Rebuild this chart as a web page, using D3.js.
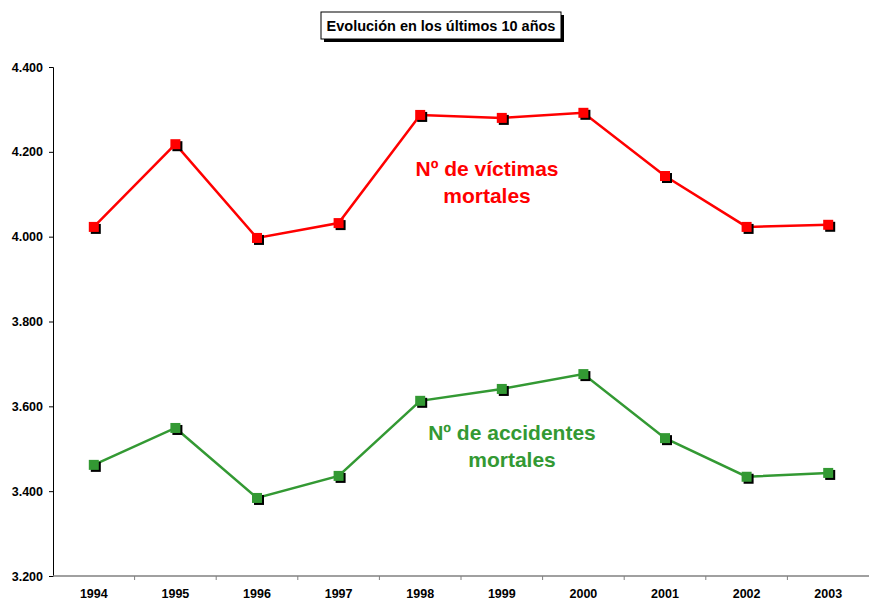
<!DOCTYPE html>
<html>
<head>
<meta charset="utf-8">
<script src="https://cdn.jsdelivr.net/npm/d3@7"></script>
<style>
  body { margin: 0; background: #fff; }
  text { font-family: "Liberation Sans", Arial, sans-serif; }
</style>
</head>
<body>
<script>
// Datos
const years = ["1994", "1995", "1996", "1997", "1998", "1999", "2000", "2001", "2002", "2003"];
const victimas = [4023, 4218, 3997, 4032, 4287, 4280, 4292, 4143, 4023, 4028];
const accidentes = [3462, 3549, 3384, 3436, 3613, 3641, 3676, 3525, 3434, 3443];
const yTicks = [3200, 3400, 3600, 3800, 4000, 4200, 4400];

const width = 869, height = 601;
const margin = { top: 67, right: 0, bottom: 25, left: 53 };

const svg = d3.select("body").append("svg")
  .attr("width", width)
  .attr("height", height);

const x = d3.scaleBand()
  .domain(years)
  .range([margin.left, width - margin.right]);

const y = d3.scaleLinear()
  .domain([3200, 4400])
  .range([height - margin.bottom, margin.top]);

const fmt = v => d3.format(",")(v).replace(",", ".");

// Eje Y
const yAxis = svg.append("g")
  .attr("transform", `translate(${margin.left},0)`)
  .call(d3.axisLeft(y).tickValues(yTicks).tickFormat(fmt).tickSize(4).tickPadding(6));
yAxis.select(".domain").attr("stroke", "#000");
yAxis.selectAll("text").style("font-size", "12.5px").style("font-weight", "bold").attr("fill", "#000");

// Eje X (marcas en los límites de cada categoría)
const xAxis = svg.append("g")
  .attr("transform", `translate(0,${y(3200)})`);
xAxis.append("line")
  .attr("x1", margin.left).attr("x2", width)
  .attr("stroke", "#808080").attr("stroke-width", 1.5);
xAxis.selectAll(".tk").data(years.slice(1))
  .enter().append("line")
  .attr("x1", d => x(d)).attr("x2", d => x(d))
  .attr("y1", 0).attr("y2", 4)
  .attr("stroke", "#808080");
xAxis.selectAll(".lbl").data(years)
  .enter().append("text")
  .attr("x", d => x(d) + x.bandwidth() / 2)
  .attr("y", 22)
  .attr("text-anchor", "middle")
  .style("font-size", "12.5px").style("font-weight", "bold")
  .text(d => d);

// Series
function drawSeries(values, color) {
  const line = d3.line()
    .x((d, i) => x(years[i]) + x.bandwidth() / 2)
    .y(d => y(d));
  svg.append("path")
    .datum(values)
    .attr("d", line)
    .attr("fill", "none")
    .attr("stroke", color)
    .attr("stroke-width", 2.5);
  const s = 10;
  const g = svg.append("g");
  values.forEach((v, i) => {
    const cx = x(years[i]) + x.bandwidth() / 2;
    const cy = y(v);
    g.append("rect")
      .attr("x", cx - s / 2 + 2).attr("y", cy - s / 2 + 2)
      .attr("width", s).attr("height", s)
      .attr("fill", "#000");
    g.append("rect")
      .attr("x", cx - s / 2).attr("y", cy - s / 2)
      .attr("width", s).attr("height", s)
      .attr("fill", color);
  });
}
drawSeries(victimas, "#ff0000");
drawSeries(accidentes, "#339933");

// Etiquetas de series
function label(lines, cx, cy, color) {
  const t = svg.append("text")
    .attr("text-anchor", "middle")
    .attr("fill", color)
    .style("font-size", "21px").style("font-weight", "bold");
  lines.forEach((l, i) => {
    t.append("tspan").attr("x", cx).attr("y", cy + i * 27).text(l);
  });
}
label(["Nº de víctimas", "mortales"], 487, 176, "#ff0000");
label(["Nº de accidentes", "mortales"], 512, 440, "#339933");

// Título con sombra
const title = svg.append("g");
const tw = 240, th = 27, tx = 321, ty = 12;
title.append("rect").attr("x", tx + 3).attr("y", ty + 3).attr("width", tw).attr("height", th).attr("fill", "#000");
title.append("rect").attr("x", tx).attr("y", ty).attr("width", tw).attr("height", th)
  .attr("fill", "#fff").attr("stroke", "#000").attr("stroke-width", 1);
title.append("text")
  .attr("x", tx + tw / 2).attr("y", ty + 19)
  .attr("text-anchor", "middle")
  .style("font-size", "14.5px").style("font-weight", "bold")
  .text("Evolución en los últimos 10 años");
</script>
</body>
</html>
